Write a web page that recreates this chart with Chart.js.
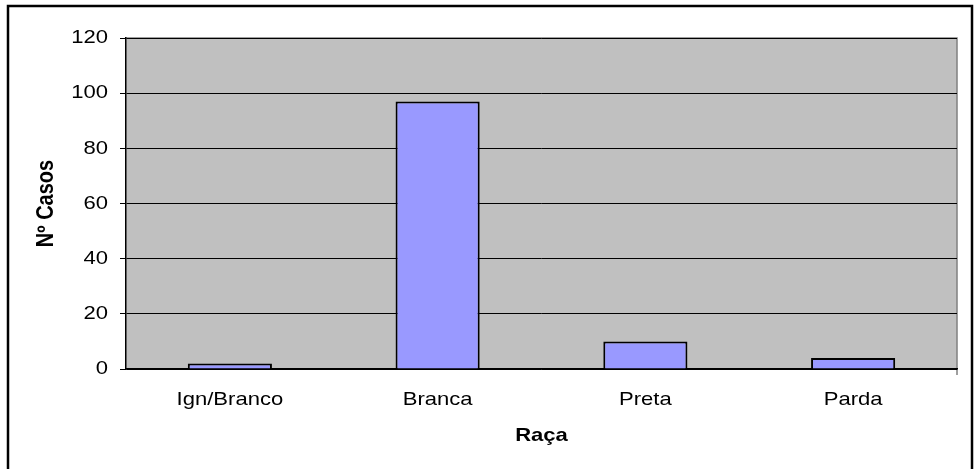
<!DOCTYPE html>
<html>
<head>
<meta charset="utf-8">
<script src="https://cdn.jsdelivr.net/npm/chart.js@4/dist/chart.umd.min.js"></script>
<style>
html,body{margin:0;padding:0;background:#fff;}
#wrap{width:974px;height:469px;position:relative;}
</style>
</head>
<body>
<div id="wrap"><canvas id="c" width="974" height="469"></canvas></div>
<script>
const categories = ["Ign/Branco", "Branca", "Preta", "Parda"];
const casos = [2, 97, 10, 4];
const yTicks = [0, 20, 40, 60, 80, 100, 120];
const yTitle = "Nº Casos";
const xTitle = "Raça";

// The reference text is drawn horizontally widened; reproduce that on this canvas.
const TEXT_STRETCH = 1.16;
const canvas = document.getElementById('c');
const ctx0 = canvas.getContext('2d');
const origFillText = ctx0.fillText.bind(ctx0);
ctx0.fillText = function (t, x, y, mw) {
  const m = this.getTransform();
  this.save();
  this.translate(x, y);
  if (Math.abs(m.b) > 1e-6) {
    this.scale(1, TEXT_STRETCH);
  } else {
    this.scale(TEXT_STRETCH, 1);
  }
  origFillText(t, 0, 0);
  this.restore();
};

const frame = {
  id: 'frame',
  beforeDraw(chart) {
    const ctx = chart.ctx, a = chart.chartArea;
    ctx.save();
    ctx.fillStyle = '#fff';
    ctx.fillRect(0, 0, chart.width, chart.height);
    ctx.lineWidth = 2.5;
    ctx.strokeStyle = '#000';
    ctx.strokeRect(8, 6, 964, 500);
    ctx.fillStyle = '#C0C0C0';
    ctx.fillRect(a.left, a.top, a.right - a.left, a.bottom - a.top);
    ctx.lineWidth = 1.5;
    ctx.strokeStyle = '#808080';
    ctx.beginPath();
    ctx.moveTo(a.left, a.top);
    ctx.lineTo(a.right, a.top);
    ctx.lineTo(a.right, a.bottom + 6);
    ctx.stroke();
    ctx.restore();
  }
};

new Chart(canvas, {
  type: 'bar',
  data: {
    labels: categories,
    datasets: [{
      data: casos,
      backgroundColor: '#9999FF',
      borderColor: '#000',
      borderWidth: 2,
      borderSkipped: 'bottom',
      categoryPercentage: 1,
      barPercentage: 0.405
    }]
  },
  options: {
    responsive: false,
    animation: false,
    devicePixelRatio: 1,
    layout: { padding: { left: 0, right: 17, top: 38, bottom: 0 } },
    plugins: { legend: { display: false }, tooltip: { enabled: false } },
    scales: {
      x: {
        grid: { display: false, drawTicks: false },
        border: { display: true, color: '#000', width: 1.5 },
        ticks: { color: '#000', padding: 19, font: { family: 'Liberation Sans, Arial', size: 19 } },
        title: { display: true, text: xTitle, color: '#000', padding: { top: 0, bottom: 22 },
                 font: { family: 'Liberation Sans, Arial', size: 19, weight: 'bold' } },
        afterFit(s) { s.height = 100; }
      },
      y: {
        min: 0, max: 120,
        afterBuildTicks(s) { s.ticks = yTicks.map(v => ({ value: v })); },
        grid: { color: '#000', lineWidth: 1, drawTicks: true, tickLength: 6, tickColor: '#000' },
        border: { display: true, color: '#000', width: 1.5 },
        ticks: { color: '#000', padding: 12, font: { family: 'Liberation Sans, Arial', size: 19 } },
        title: { display: true, text: yTitle, color: '#000', padding: { top: 35, bottom: 0 },
                 font: { family: 'Liberation Sans, Arial', size: 20, weight: 'bold' } },
        afterFit(s) { s.width = 126; }
      }
    }
  },
  plugins: [frame]
});
</script>
</body>
</html>
